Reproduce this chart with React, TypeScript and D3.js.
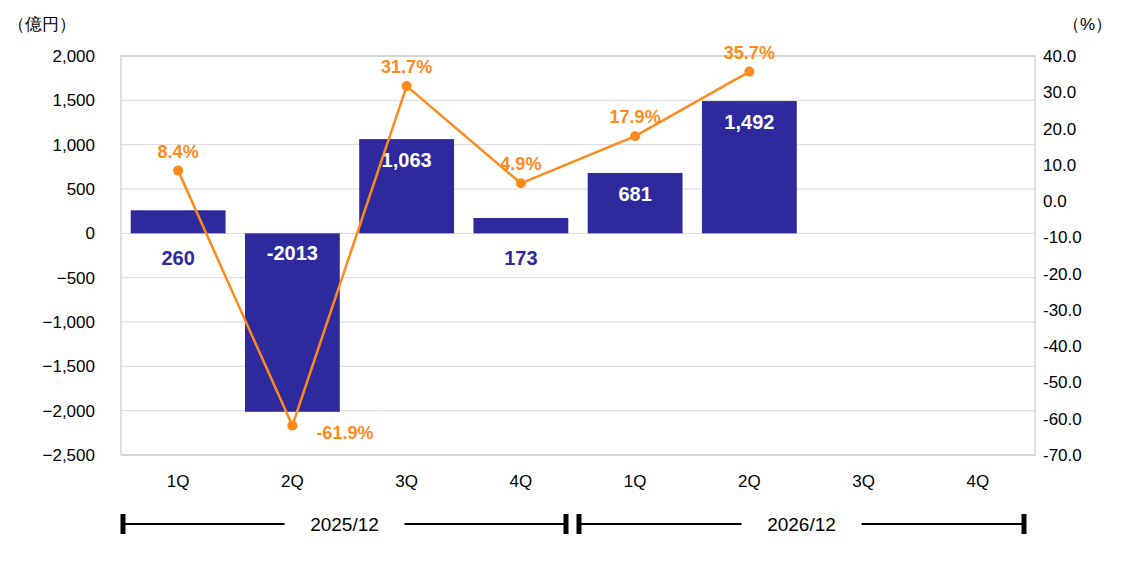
import * as d3 from 'd3';

const quarters = ['1Q', '2Q', '3Q', '4Q', '1Q', '2Q', '3Q', '4Q'];
const profit: (number | null)[] = [260, -2013, 1063, 173, 681, 1492, null, null];
const profitLabels = ['260', '-2013', '1,063', '173', '681', '1,492'];
const margin: (number | null)[] = [8.4, -61.9, 31.7, 4.9, 17.9, 35.7, null, null];
const years = ['2025/12', '2026/12'];
const leftTicks = [2000, 1500, 1000, 500, 0, -500, -1000, -1500, -2000, -2500];
const rightTicks = [40, 30, 20, 10, 0, -10, -20, -30, -40, -50, -60, -70];

const BLUE = '#2E2A9E';
const ORANGE = '#FF8A1C';
const FONT = 'Arial, "Liberation Sans", sans-serif';

export default function App() {
  const W = 1135, H = 561;
  const L = 121, R = 1035, T = 56, B = 455;
  const x = d3.scaleBand<number>().domain(d3.range(8)).range([L, R]).paddingInner(0.17).paddingOuter(0.085);
  const step = (R - L) / 8;
  const cx = (i: number) => L + step * (i + 0.5);
  const y = d3.scaleLinear().domain([-2500, 2000]).range([B, T]);
  const y2 = d3.scaleLinear().domain([-70, 40]).range([B, T]);
  const pts = margin.map((v, i) => ({ v, i })).filter(d => d.v !== null) as { v: number; i: number }[];
  const line = d3.line<{ v: number; i: number }>().x(d => cx(d.i)).y(d => y2(d.v));
  const fmt = d3.format(',');

  return (
    <svg width={W} height={H} style={{ position: 'absolute', left: 0, top: 0, fontFamily: FONT }}>
      <rect width={W} height={H} fill="#fff" />
      {leftTicks.map(t => (
        <line key={t} x1={L} x2={R} y1={y(t)} y2={y(t)} stroke="#d9d9d9" />
      ))}
      <rect x={L} y={T} width={R - L} height={B - T} fill="none" stroke="#bfbfbf" />
      {leftTicks.map(t => (
        <text key={t} x={95} y={y(t) + 6} fontSize={17} textAnchor="end">{fmt(t)}</text>
      ))}
      {rightTicks.map(t => (
        <text key={t} x={1043} y={y2(t) + 6} fontSize={17}>{t.toFixed(1)}</text>
      ))}
      <text x={8} y={30} fontSize={17}>（億円）</text>
      <text x={1063} y={30} fontSize={17}>（%）</text>
      {profit.map((v, i) => v === null ? null : (
        <rect key={i} x={x(i)} width={x.bandwidth()} y={y(Math.max(0, v))}
          height={Math.abs(y(v) - y(0))} fill={BLUE} />
      ))}
      {profit.map((v, i) => {
        if (v === null) return null;
        const inside = Math.abs(v) > 400;
        const ty = inside ? (v > 0 ? y(v) + 28 : y(0) + 27) : y(0) + 32;
        return (
          <text key={i} x={cx(i)} y={ty} fontSize={20} fontWeight="bold" textAnchor="middle"
            fill={inside ? '#fff' : BLUE}>{profitLabels[i]}</text>
        );
      })}
      <path d={line(pts) ?? ''} fill="none" stroke={ORANGE} strokeWidth={2.5} />
      {pts.map(d => (
        <g key={d.i}>
          <circle cx={cx(d.i)} cy={y2(d.v)} r={5} fill={ORANGE} />
          <text x={d.v < 0 ? cx(d.i) + 24 : cx(d.i)} y={d.v < 0 ? y2(d.v) + 13 : y2(d.v) - 13}
            fontSize={18} fontWeight="bold" fill={ORANGE} textAnchor={d.v < 0 ? 'start' : 'middle'}>
            {d.v.toFixed(1)}%
          </text>
        </g>
      ))}
      {quarters.map((q, i) => (
        <text key={i} x={cx(i)} y={487} fontSize={17} textAnchor="middle">{q}</text>
      ))}
      {years.map((yr, g) => {
        const x0 = g === 0 ? 123 : 579;
        const x1 = g === 0 ? 566 : 1024;
        const mid = (x0 + x1) / 2;
        return (
          <g key={yr}>
            <line x1={x0} x2={mid - 60} y1={524} y2={524} stroke="#000" strokeWidth={2} />
            <line x1={mid + 60} x2={x1} y1={524} y2={524} stroke="#000" strokeWidth={2} />
            <line x1={x0} x2={x0} y1={514} y2={534} stroke="#000" strokeWidth={5} />
            <line x1={x1} x2={x1} y1={514} y2={534} stroke="#000" strokeWidth={5} />
            <text x={mid} y={531} fontSize={19} textAnchor="middle">{yr}</text>
          </g>
        );
      })}
    </svg>
  );
}
